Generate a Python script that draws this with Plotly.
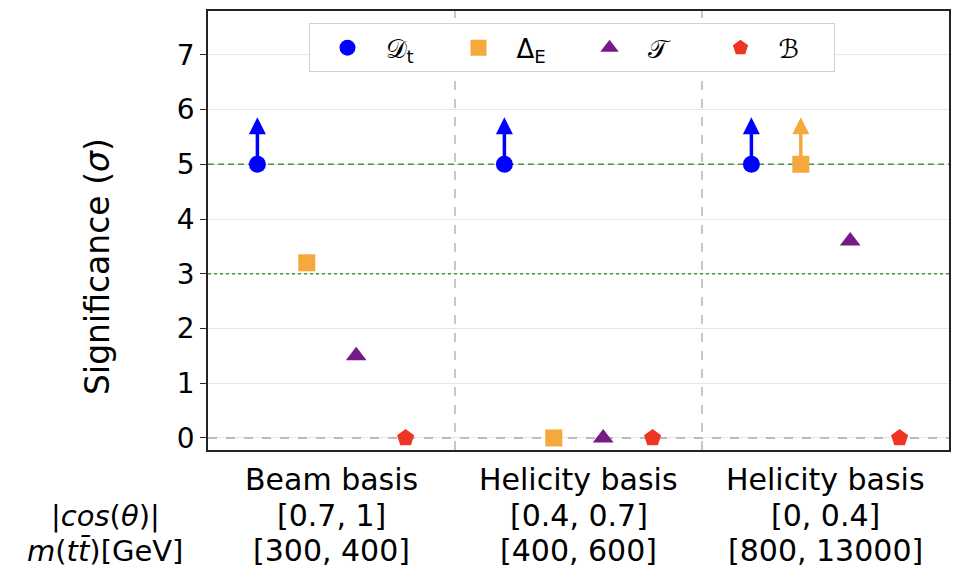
import plotly.graph_objects as go

# ---- data ----
groups = ["Beam basis", "Helicity basis", "Helicity basis"]
cos_ranges = ["[0.7, 1]", "[0.4, 0.7]", "[0, 0.4]"]
mass_ranges = ["[300, 400]", "[400, 600]", "[800, 13000]"]

series_names = ["𝒟<sub>t</sub>", "Δ<sub>E</sub>", "𝒯", "ℬ"]
D_vals = [5.0, 5.0, 5.0]
Delta_vals = [3.2, 0.0, 5.0]
T_vals = [1.5, 0.0, 3.6]
B_vals = [0.0, 0.0, 0.0]
D_lower = [True, True, True]
Delta_lower = [False, False, True]
T_lower = [False, False, False]
B_lower = [False, False, False]

discovery_level = 5
evidence_level = 3
zero_level = 0
separators = [0.5, 1.5]

yticks = [0, 1, 2, 3, 4, 5, 6, 7]

colors = ["#0000ff", "#f5a83c", "#751a86", "#ee3524"]
symbols = ["circle", "square", "triangle-up", "pentagon"]
sizes = [17, 17, 18, 18]
offsets = [-0.3, -0.1, 0.1, 0.3]
ARROW_LEN = 0.86
XR = [-0.5, 2.5]
YR = [-0.22, 7.8]

FONT = "DejaVu Sans"

fig = go.Figure()
all_vals = [D_vals, Delta_vals, T_vals, B_vals]
all_lower = [D_lower, Delta_lower, T_lower, B_lower]

# reference lines as traces (beneath markers)
def ref_line(x, y, color, width, dash):
    fig.add_trace(go.Scatter(x=x, y=y, mode="lines", showlegend=False,
                             hoverinfo="skip",
                             line=dict(color=color, width=width, dash=dash)))

for s in separators:
    ref_line([s, s], YR, "#aaaaaa", 1.3, "dash")
ref_line(XR, [zero_level] * 2, "#aaaaaa", 1.6, "dash")
ref_line(XR, [evidence_level] * 2, "#3f9a3f", 1.4, "dot")
ref_line(XR, [discovery_level] * 2, "#3f9a3f", 1.5, "6px,4px")

# lower-limit arrows (shaft + head)
for k in range(4):
    sx, sy, hx, hy = [], [], [], []
    for i, flag in enumerate(all_lower[k]):
        if flag:
            x = i + offsets[k]
            v = all_vals[k][i]
            sx += [x, x, None]
            sy += [v, v + ARROW_LEN - 0.2, None]
            hx.append(x)
            hy.append(v + ARROW_LEN)
    if sx:
        fig.add_trace(go.Scatter(x=sx, y=sy, mode="lines", showlegend=False,
                                 line=dict(color=colors[k], width=3.5),
                                 hoverinfo="skip"))
        fig.add_trace(go.Scatter(x=hx, y=hy, mode="markers", showlegend=False,
                                 marker=dict(symbol="arrow-up", size=17,
                                             color=colors[k], line=dict(width=0)),
                                 hoverinfo="skip"))

for k in range(4):
    xs = [i + offsets[k] for i in range(len(groups))]
    fig.add_trace(go.Scatter(
        x=xs, y=all_vals[k], mode="markers", name=series_names[k],
        marker=dict(symbol=symbols[k], size=sizes[k], color=colors[k],
                    line=dict(width=0)),
        cliponaxis=False,
    ))

# bottom category labels
def py(px):
    return (450 - px) / 441.0

for i in range(len(groups)):
    for txt, ypx in [(groups[i], 480), (cos_ranges[i], 516), (mass_ranges[i], 551)]:
        fig.add_annotation(x=i, y=py(ypx), xref="x", yref="paper", text=txt,
                           showarrow=False, xanchor="center", yanchor="middle",
                           font=dict(size=30, color="black", family=FONT))

left_labels = ["|<i>cos</i>(<i>θ</i>)|", "<i>m</i>(<i>tt̄</i>)[GeV]"]
for txt, ypx in zip(left_labels, [516, 551]):
    fig.add_annotation(x=(105 - 208) / 742.0, y=py(ypx), xref="paper", yref="paper",
                       text=txt, showarrow=False, xanchor="center", yanchor="middle",
                       font=dict(size=29, color="black", family=FONT))

# y title
fig.add_annotation(x=(98 - 208) / 742.0, y=py(266), xref="paper", yref="paper",
                   text="Significance (<i>σ</i>)", textangle=-90, showarrow=False,
                   xanchor="center", yanchor="middle",
                   font=dict(size=33, color="black", family=FONT))

fig.update_layout(
    width=960, height=572,
    margin=dict(l=208, r=10, t=9, b=122),
    paper_bgcolor="white", plot_bgcolor="white",
    font=dict(family=FONT, color="black"),
    showlegend=True,
    legend=dict(orientation="h", x=(572 - 208) / 742.0, xanchor="center",
                y=0.972, yanchor="top",
                bgcolor="white", bordercolor="#d0d0d0", borderwidth=1,
                font=dict(size=26, family=FONT, color="black"),
                itemwidth=66, entrywidth=50, entrywidthmode="pixels",
                itemsizing="trace"),
    xaxis=dict(range=XR, showgrid=False, zeroline=False,
               showticklabels=False, ticks="", showline=True, mirror=True,
               linecolor="#222222", linewidth=1.5),
    yaxis=dict(range=YR, tickvals=yticks, ticktext=[str(t) for t in yticks],
               showgrid=True, gridcolor="#e6e6e6", gridwidth=1, zeroline=False,
               ticks="outside", ticklen=6, tickwidth=1.2, tickcolor="#222222",
               tickfont=dict(size=28, family=FONT, color="black"),
               showline=True, mirror=True, linecolor="#222222", linewidth=1.5),
)

fig.write_html("out.html")
